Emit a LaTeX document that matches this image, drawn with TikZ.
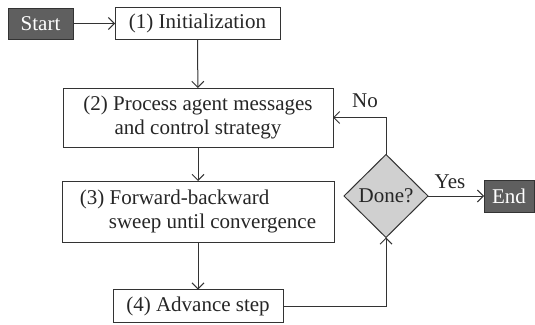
\documentclass[tikz,border=0pt]{standalone}
\usepackage{fontspec}
\setmainfont{Liberation Serif}
\newfontfamily\flowfont{Liberation Serif}
\usetikzlibrary{arrows.meta,shapes.geometric}
\definecolor{lineC}{HTML}{333333}
\definecolor{textC}{HTML}{262626}
\definecolor{termC}{HTML}{5F5F5F}
\definecolor{decC}{HTML}{D0D0D0}
\tikzset{
  base/.style={draw=lineC, line width=1pt, inner sep=0pt, outer sep=0pt,
    font=\flowfont\fontsize{21}{24}\selectfont, align=center, text=textC},
  terminal/.style={base, fill=termC, text=white},
  stepbox/.style={base, fill=white},
  decision/.style={base, diamond, fill=decC, minimum width=84pt, minimum height=83pt},
  flow/.style={draw=lineC, line width=1pt, -{Straight Barb[length=6pt,width=12pt,line width=1pt]}},
  lbl/.style={font=\flowfont\fontsize{21}{24}\selectfont, inner sep=0pt, text=textC}
}
\begin{document}
\begin{tikzpicture}[x=1pt, y=-1pt]
  \useasboundingbox (0,0) rectangle (535,324);
  \node[terminal, minimum width=65pt, minimum height=31pt] (start) at (40.5,23.5) {Start};
  \node[stepbox, minimum width=165pt, minimum height=32pt] (s1) at (197.5,23.5) {(1) Initialization};
  \node[stepbox, minimum width=270pt, minimum height=59pt] (s2) at (198,117.5)
    {(2) Process agent messages\\and control strategy};
  \node[stepbox, minimum width=272pt, minimum height=61pt] (s3) at (198,211.5)
    {\begin{tabular}{@{}l@{}}(3) Forward-backward\\\hspace{29pt}sweep until convergence\end{tabular}};
  \node[stepbox, minimum width=170pt, minimum height=33pt] (s4) at (198,306) {(4) Advance step};
  \node[decision] (done) at (386,196) {Done?};
  \node[terminal, minimum width=50pt, minimum height=32pt] (end) at (509,196) {End};

  \draw[flow] (start) -- (s1);
  \draw[flow] (s1) -- (s2);
  \draw[flow] (s2) -- (s3);
  \draw[flow] (s3) -- (s4);
  \draw[flow] (s4.east) -| (done.south);
  \draw[flow] (done.north) |- (s2.east);
  \draw[flow] (done) -- (end);

  \node[lbl] (nolbl) at (365,101) {No};
  \node[lbl] (yeslbl) at (450,182) {Yes};
\end{tikzpicture}
\end{document}
